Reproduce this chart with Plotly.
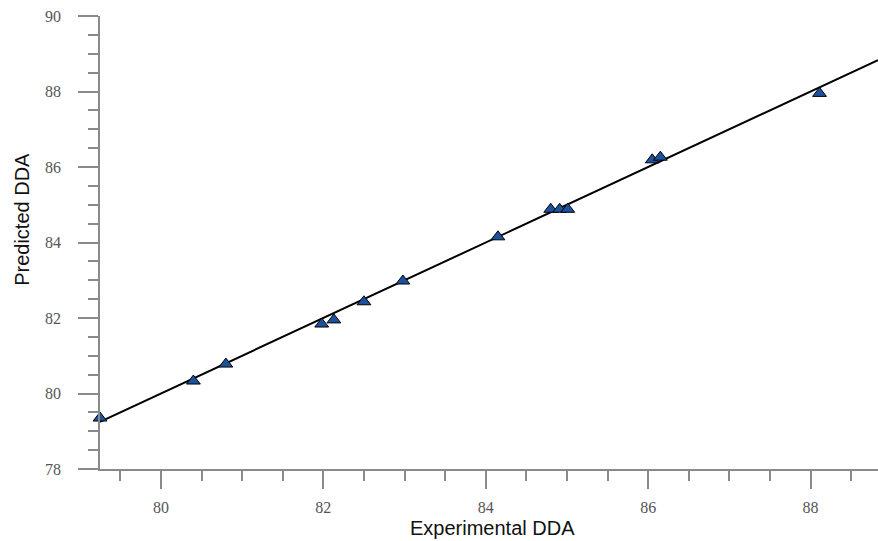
import plotly.graph_objects as go

# Data
experimental = [79.25, 80.40, 80.80, 81.98, 82.13, 82.50, 82.98, 84.15, 84.80, 84.91, 85.01, 86.05, 86.15, 88.11]
predicted = [79.35, 80.33, 80.78, 81.84, 81.95, 82.43, 82.98, 84.15, 84.88, 84.88, 84.88, 86.19, 86.26, 87.95]
x_range = [79.25, 88.83]
y_range = [78, 90]

# ideal y = x reference line across the x range
line_x = x_range
line_y = list(x_range)

axis_col = "#8a8a8a"
tick_font = dict(family="Liberation Serif, Times New Roman, serif", size=16, color="#555555")

fig = go.Figure()
fig.add_trace(go.Scatter(x=line_x, y=line_y, mode="lines",
                         line=dict(color="black", width=2), showlegend=False, hoverinfo="skip"))
fig.add_trace(go.Scatter(x=experimental, y=predicted, mode="markers",
                         marker=dict(symbol="triangle-up", size=12, color="#1d519c",
                                     line=dict(color="black", width=1)),
                         cliponaxis=False, showlegend=False))

fig.update_layout(
    width=878, height=541,
    margin=dict(l=100, r=0, t=16, b=72),
    plot_bgcolor="white", paper_bgcolor="white",
    xaxis=dict(range=x_range, showgrid=False, zeroline=False,
               showline=True, linecolor=axis_col, linewidth=1.5,
               tickmode="linear", tick0=80, dtick=2,
               ticks="outside", ticklen=18, tickwidth=1.5, tickcolor=axis_col,
               minor=dict(tickmode="linear", tick0=79.5, dtick=0.5, ticks="outside",
                          ticklen=10, tickwidth=1.5, tickcolor=axis_col, showgrid=False),
               tickfont=tick_font, ticklabelstandoff=5),
    yaxis=dict(range=y_range, showgrid=False, zeroline=False,
               showline=True, linecolor=axis_col, linewidth=1.5,
               tickmode="linear", tick0=78, dtick=2,
               ticks="outside", ticklen=20, tickwidth=1.5, tickcolor=axis_col,
               minor=dict(tickmode="linear", tick0=78, dtick=0.5, ticks="outside",
                          ticklen=10, tickwidth=1.5, tickcolor=axis_col, showgrid=False),
               tickfont=tick_font, ticklabelstandoff=14),
    annotations=[
        dict(text="Experimental DDA", xref="paper", yref="paper", x=0.504, y=-0.131,
             xanchor="center", yanchor="middle", showarrow=False,
             font=dict(family="Liberation Sans, Arial, sans-serif", size=20, color="#111111")),
        dict(text="Predicted DDA", xref="paper", yref="paper", x=0, xshift=-78, y=0.55,
             xanchor="center", yanchor="middle", textangle=-90, showarrow=False,
             font=dict(family="Liberation Sans, Arial, sans-serif", size=20, color="#111111")),
    ],
)

fig.write_html("out.html", config={"displayModeBar": False},
               post_script="document.body.style.margin='0';document.body.style.overflow='hidden';")
